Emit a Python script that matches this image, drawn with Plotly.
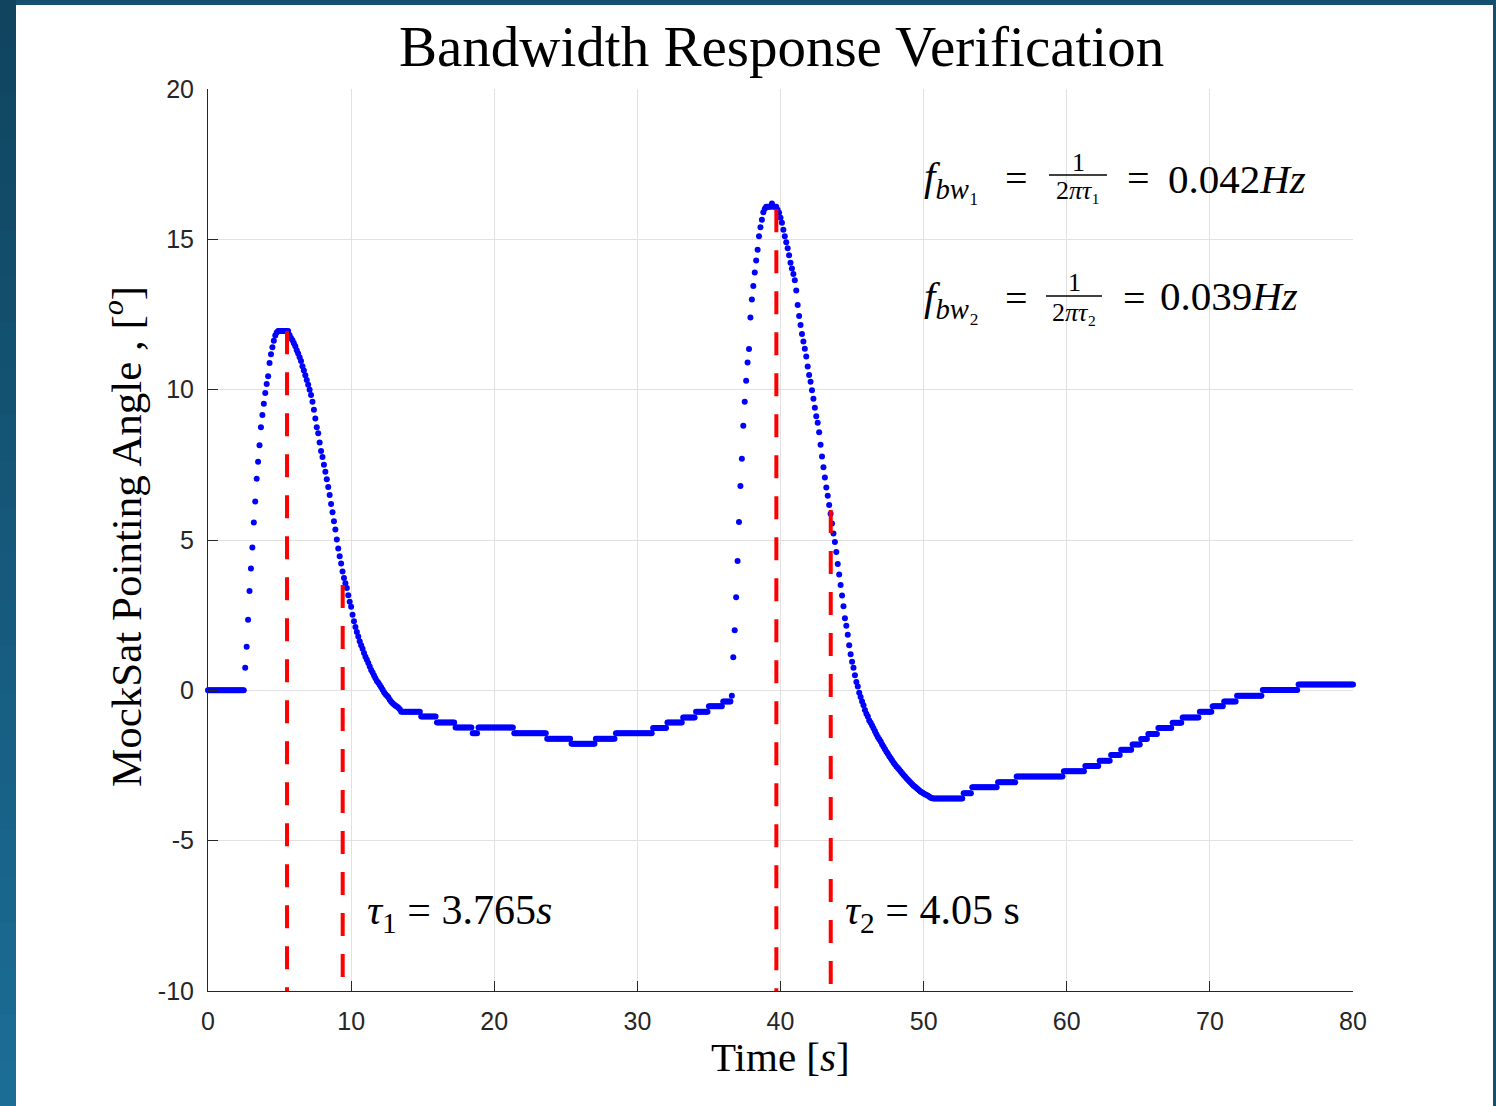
import numpy as np
import plotly.graph_objects as go

# ---------------- data ----------------
# MockSat pointing angle [deg], one sample every 0.1 s, t = 0.0 ... 80.0 s
angle_deg = [
    0, 0, 0, 0, 0, 0, 0, 0, 0, 0,
    0, 0, 0, 0, 0, 0, 0, 0, 0, 0,
    0, 0, 0, 0, 0, 0, 0.75, 1.45, 2.35, 3.3,
    4.05, 4.75, 5.58, 6.28, 7.04, 7.6, 8.15, 8.75, 9.16, 9.53,
    9.89, 10.19, 10.45, 10.89, 11.18, 11.41, 11.63, 11.8, 11.9, 11.95,
    11.95, 11.95, 11.95, 11.95, 11.95, 11.95, 11.95, 11.82, 11.72, 11.64,
    11.54, 11.44, 11.31, 11.2, 11.08, 10.95, 10.78, 10.64, 10.48, 10.32,
    10.16, 10.0, 9.82, 9.6, 9.33, 9.04, 8.75, 8.55, 8.24, 7.96,
    7.76, 7.5, 7.27, 7.02, 6.76, 6.5, 6.2, 5.92, 5.62, 5.35,
    5.02, 4.72, 4.46, 4.22, 3.95, 3.74, 3.56, 3.4, 3.16, 2.95,
    2.78, 2.51, 2.3, 2.11, 1.94, 1.79, 1.63, 1.5, 1.38, 1.24,
    1.12, 1.02, 0.91, 0.79, 0.68, 0.59, 0.49, 0.4, 0.31, 0.25,
    0.18, 0.1, 0.02, -0.06, -0.13, -0.18, -0.23, -0.31, -0.38, -0.43,
    -0.47, -0.51, -0.54, -0.58, -0.63, -0.71, -0.71, -0.71, -0.71, -0.71,
    -0.71, -0.71, -0.71, -0.71, -0.71, -0.71, -0.71, -0.71, -0.71, -0.87,
    -0.87, -0.87, -0.87, -0.87, -0.87, -0.87, -0.87, -0.87, -0.87, -0.87,
    -1.07, -1.07, -1.07, -1.07, -1.07, -1.07, -1.07, -1.07, -1.07, -1.07,
    -1.07, -1.07, -1.07, -1.24, -1.24, -1.24, -1.24, -1.24, -1.24, -1.24,
    -1.24, -1.24, -1.24, -1.24, -1.24, -1.43, -1.43, -1.43, -1.43, -1.24,
    -1.24, -1.24, -1.24, -1.24, -1.24, -1.24, -1.24, -1.24, -1.24, -1.24,
    -1.24, -1.24, -1.24, -1.24, -1.24, -1.24, -1.24, -1.24, -1.24, -1.24,
    -1.24, -1.24, -1.24, -1.24, -1.43, -1.43, -1.43, -1.43, -1.43, -1.43,
    -1.43, -1.43, -1.43, -1.43, -1.43, -1.43, -1.43, -1.43, -1.43, -1.43,
    -1.43, -1.43, -1.43, -1.43, -1.43, -1.43, -1.43, -1.61, -1.61, -1.61,
    -1.61, -1.61, -1.61, -1.61, -1.61, -1.61, -1.61, -1.61, -1.61, -1.61,
    -1.61, -1.61, -1.61, -1.61, -1.78, -1.78, -1.78, -1.78, -1.78, -1.78,
    -1.78, -1.78, -1.78, -1.78, -1.78, -1.78, -1.78, -1.78, -1.78, -1.78,
    -1.78, -1.61, -1.61, -1.61, -1.61, -1.61, -1.61, -1.61, -1.61, -1.61,
    -1.61, -1.61, -1.61, -1.61, -1.61, -1.43, -1.43, -1.43, -1.43, -1.43,
    -1.43, -1.43, -1.43, -1.43, -1.43, -1.43, -1.43, -1.43, -1.43, -1.43,
    -1.43, -1.43, -1.43, -1.43, -1.43, -1.43, -1.43, -1.43, -1.43, -1.43,
    -1.43, -1.25, -1.25, -1.25, -1.25, -1.25, -1.25, -1.25, -1.25, -1.25,
    -1.25, -1.07, -1.07, -1.07, -1.07, -1.07, -1.07, -1.07, -1.07, -1.07,
    -1.07, -1.07, -0.9, -0.9, -0.9, -0.9, -0.9, -0.9, -0.9, -0.9,
    -0.9, -0.71, -0.71, -0.71, -0.71, -0.71, -0.71, -0.71, -0.71, -0.71,
    -0.53, -0.53, -0.53, -0.53, -0.53, -0.53, -0.53, -0.53, -0.53, -0.53,
    -0.37, -0.37, -0.37, -0.37, -0.37, -0.37, -0.18, 1.1, 2.0, 3.1,
    4.3, 5.6, 6.8, 7.7, 8.8, 9.6, 10.3, 10.9, 11.35, 12.4,
    13.0, 13.45, 13.9, 14.3, 14.65, 15.1, 15.4, 15.65, 15.9, 16.02,
    16.08, 16.08, 16.08, 16.08, 16.19, 16.08, 16.08, 16.08, 15.98, 15.88,
    15.72, 15.55, 15.32, 15.1, 14.9, 14.7, 14.47, 14.22, 14.03, 13.85,
    13.64, 13.3, 12.82, 12.45, 12.15, 11.85, 11.6, 11.36, 11.1, 10.77,
    10.49, 10.26, 9.98, 9.7, 9.4, 9.12, 8.9, 8.58, 8.17, 7.78,
    7.42, 7.08, 6.75, 6.47, 6.16, 5.87, 5.55, 5.22, 4.93, 4.6,
    4.2, 3.85, 3.5, 3.15, 2.8, 2.4, 2.15, 1.85, 1.5, 1.2,
    0.95, 0.75, 0.5, 0.28, 0.13, -0.08, -0.22, -0.37, -0.5, -0.65,
    -0.78, -0.87, -1.0, -1.08, -1.17, -1.26, -1.36, -1.46, -1.55, -1.63,
    -1.7, -1.8, -1.88, -1.96, -2.04, -2.11, -2.19, -2.26, -2.33, -2.41,
    -2.47, -2.53, -2.58, -2.64, -2.7, -2.76, -2.82, -2.87, -2.92, -2.97,
    -3.02, -3.07, -3.12, -3.17, -3.21, -3.25, -3.29, -3.33, -3.37, -3.4,
    -3.43, -3.46, -3.48, -3.51, -3.54, -3.57, -3.59, -3.6, -3.6, -3.6,
    -3.6, -3.6, -3.6, -3.6, -3.6, -3.6, -3.6, -3.6, -3.6, -3.6,
    -3.6, -3.6, -3.6, -3.6, -3.6, -3.6, -3.6, -3.6, -3.42, -3.42,
    -3.42, -3.42, -3.42, -3.42, -3.22, -3.22, -3.22, -3.22, -3.22, -3.22,
    -3.22, -3.22, -3.22, -3.22, -3.22, -3.22, -3.22, -3.22, -3.22, -3.22,
    -3.22, -3.22, -3.06, -3.06, -3.06, -3.06, -3.06, -3.06, -3.06, -3.06,
    -3.06, -3.06, -3.06, -3.06, -3.06, -2.87, -2.87, -2.87, -2.87, -2.87,
    -2.87, -2.87, -2.87, -2.87, -2.87, -2.87, -2.87, -2.87, -2.87, -2.87,
    -2.87, -2.87, -2.87, -2.87, -2.87, -2.87, -2.87, -2.87, -2.87, -2.87,
    -2.87, -2.87, -2.87, -2.87, -2.87, -2.87, -2.87, -2.87, -2.69, -2.69,
    -2.69, -2.69, -2.69, -2.69, -2.69, -2.69, -2.69, -2.69, -2.69, -2.69,
    -2.69, -2.69, -2.69, -2.52, -2.52, -2.52, -2.52, -2.52, -2.52, -2.52,
    -2.52, -2.52, -2.52, -2.34, -2.34, -2.34, -2.34, -2.34, -2.34, -2.34,
    -2.34, -2.15, -2.15, -2.15, -2.15, -2.15, -2.15, -2.15, -1.98, -1.98,
    -1.98, -1.98, -1.98, -1.98, -1.98, -1.98, -1.8, -1.8, -1.8, -1.8,
    -1.8, -1.8, -1.62, -1.62, -1.62, -1.62, -1.62, -1.45, -1.45, -1.45,
    -1.45, -1.45, -1.45, -1.45, -1.25, -1.25, -1.25, -1.25, -1.25, -1.25,
    -1.25, -1.25, -1.25, -1.25, -1.08, -1.08, -1.08, -1.08, -1.08, -1.08,
    -1.08, -0.9, -0.9, -0.9, -0.9, -0.9, -0.9, -0.9, -0.9, -0.9,
    -0.9, -0.9, -0.9, -0.71, -0.71, -0.71, -0.71, -0.71, -0.71, -0.71,
    -0.71, -0.71, -0.53, -0.53, -0.53, -0.53, -0.53, -0.53, -0.53, -0.53,
    -0.37, -0.37, -0.37, -0.37, -0.37, -0.37, -0.37, -0.37, -0.37, -0.18,
    -0.18, -0.18, -0.18, -0.18, -0.18, -0.18, -0.18, -0.18, -0.18, -0.18,
    -0.18, -0.18, -0.18, -0.18, -0.18, -0.18, -0.18, 0.01, 0.01, 0.01,
    0.01, 0.01, 0.01, 0.01, 0.01, 0.01, 0.01, 0.01, 0.01, 0.01,
    0.01, 0.01, 0.01, 0.01, 0.01, 0.01, 0.01, 0.01, 0.01, 0.01,
    0.01, 0.01, 0.19, 0.19, 0.19, 0.19, 0.19, 0.19, 0.19, 0.19,
    0.19, 0.19, 0.19, 0.19, 0.19, 0.19, 0.19, 0.19, 0.19, 0.19,
    0.19, 0.19, 0.19, 0.19, 0.19, 0.19, 0.19, 0.19, 0.19, 0.19,
    0.19, 0.19, 0.19, 0.19, 0.19, 0.19, 0.19, 0.19, 0.19, 0.19,
    0.19,
]
sample_dt = 0.1
time_s = np.round(np.arange(len(angle_deg)) * sample_dt, 1)

# time-constant markers (red dashed lines): time [s] and top value [deg]
tau_line_t = [5.52, 9.41, 39.71, 43.51]
tau_line_top = [11.94, 3.5, 16.0, 6.0]
axis_floor = -10

x_tick_vals = [0, 10, 20, 30, 40, 50, 60, 70, 80]
x_tick_text = ["0", "10", "20", "30", "40", "50", "60", "70", "80"]
y_tick_vals = [-10, -5, 0, 5, 10, 15, 20]
y_tick_text = ["-10", "-5", "0", "5", "10", "15", "20"]

# ---------------- layout geometry ----------------
W, H = 1496, 1106
ML, MR, MT, MB = 208, 143, 89, 115
PW, PH = W - ML - MR, H - MT - MB


def px(xp):
    return (xp - ML) / PW


def py(yp):
    return (H - MB - yp) / PH


SERIF = "Liberation Serif, Times New Roman, serif"
SANS = "Liberation Sans, Arial, Helvetica, sans-serif"

fig = go.Figure()

fig.add_trace(go.Scatter(
    x=time_s, y=angle_deg, mode="markers",
    marker=dict(color="#0000ff", size=6, line=dict(width=0)),
    cliponaxis=False, showlegend=False, hoverinfo="skip",
))

for tt, top in zip(tau_line_t, tau_line_top):
    fig.add_trace(go.Scatter(
        x=[tt, tt], y=[top, axis_floor], mode="lines",
        line=dict(color="#ff0000", width=4, dash="23px,18px"),
        cliponaxis=False, showlegend=False, hoverinfo="skip",
    ))

# ---------------- background frame ----------------
shapes = [dict(type="rect", xref="paper", yref="paper", layer="below",
               x0=px(16), x1=px(1493), y0=py(5), y1=py(H + 2),
               fillcolor="white", line=dict(width=0))]
top_c = np.array([0x10, 0x44, 0x5e])
bot_c = np.array([0x1c, 0x6e, 0x98])
nb = 24
for i in range(nb):
    c = top_c + (bot_c - top_c) * (i + 0.5) / nb
    col = "rgb(%d,%d,%d)" % tuple(int(v) for v in c)
    y0p = H * i / nb
    y1p = H * (i + 1) / nb
    shapes.append(dict(type="rect", xref="paper", yref="paper", layer="below",
                       x0=px(-2), x1=px(16), y0=py(y1p + 1), y1=py(y0p),
                       fillcolor=col, line=dict(width=0)))

# fraction bars
for (xa, xb, yb) in [(1049, 1107, 175), (1046, 1102, 296)]:
    shapes.append(dict(type="line", xref="paper", yref="paper",
                       x0=px(xa), x1=px(xb), y0=py(yb), y1=py(yb),
                       line=dict(color="black", width=1.3)))

annotations = []


def ann(text, xp, yp, size, xanchor="center", yanchor="middle", angle=0, family=SERIF):
    annotations.append(dict(
        text=text, x=px(xp), y=py(yp), xref="paper", yref="paper",
        xanchor=xanchor, yanchor=yanchor, showarrow=False, textangle=angle,
        font=dict(family=family, size=size, color="black"),
    ))


# title and axis labels
ann("Bandwidth Response Verification", 781, 47, 57)
ann("Time [<i>s</i>]", 780, 1057, 41)
ann("MockSat Pointing Angle , [<sup><i>o</i></sup>]", 123, 537, 43, angle=-90)

# bandwidth formulas
ann("<i>f</i><sub><i>bw</i>₁</sub>", 922, 179, 41, xanchor="left")
ann("=", 1016, 179, 40)
ann("1", 1078, 162, 26)
ann("2<i>πτ</i>₁", 1078, 191, 26)
ann("=", 1138, 179, 40)
ann("0.042<i>Hz</i>", 1166, 179, 41, xanchor="left")

ann("<i>f</i><sub><i>bw</i>₂</sub>", 922, 299, 41, xanchor="left")
ann("=", 1016, 298, 40)
ann("1", 1074, 282, 26)
ann("2<i>πτ</i>₂", 1074, 312, 26)
ann("=", 1134, 298, 40)
ann("0.039<i>Hz</i>", 1158, 296, 41, xanchor="left")

# time constants
ann("<i>τ</i><sub>1</sub> = 3.765<i>s</i>", 365, 913, 42, xanchor="left")
ann("<i>τ</i><sub>2</sub> = 4.05 s", 843, 913, 42, xanchor="left")

axis_common = dict(
    showgrid=True, gridcolor="#e1e1e1", gridwidth=1,
    zeroline=False, showline=True, linecolor="#262626", linewidth=1,
    ticks="inside", ticklen=10, tickwidth=1, tickcolor="#262626",
    tickfont=dict(family=SANS, size=25, color="#262626"),
    ticklabelstandoff=8,
)

fig.update_layout(
    width=W, height=H,
    margin=dict(l=ML, r=MR, t=MT, b=MB, pad=0),
    paper_bgcolor="#15506f", plot_bgcolor="white",
    showlegend=False,
    shapes=shapes, annotations=annotations,
    xaxis=dict(range=[0, 80], tickvals=x_tick_vals, ticktext=x_tick_text, **axis_common),
    yaxis=dict(range=[-10, 20], tickvals=y_tick_vals, ticktext=y_tick_text, **axis_common),
)

fig.write_html(
    "out.html",
    config={"displayModeBar": False},
    post_script="document.body.style.margin='0';document.body.style.overflow='hidden';",
)
